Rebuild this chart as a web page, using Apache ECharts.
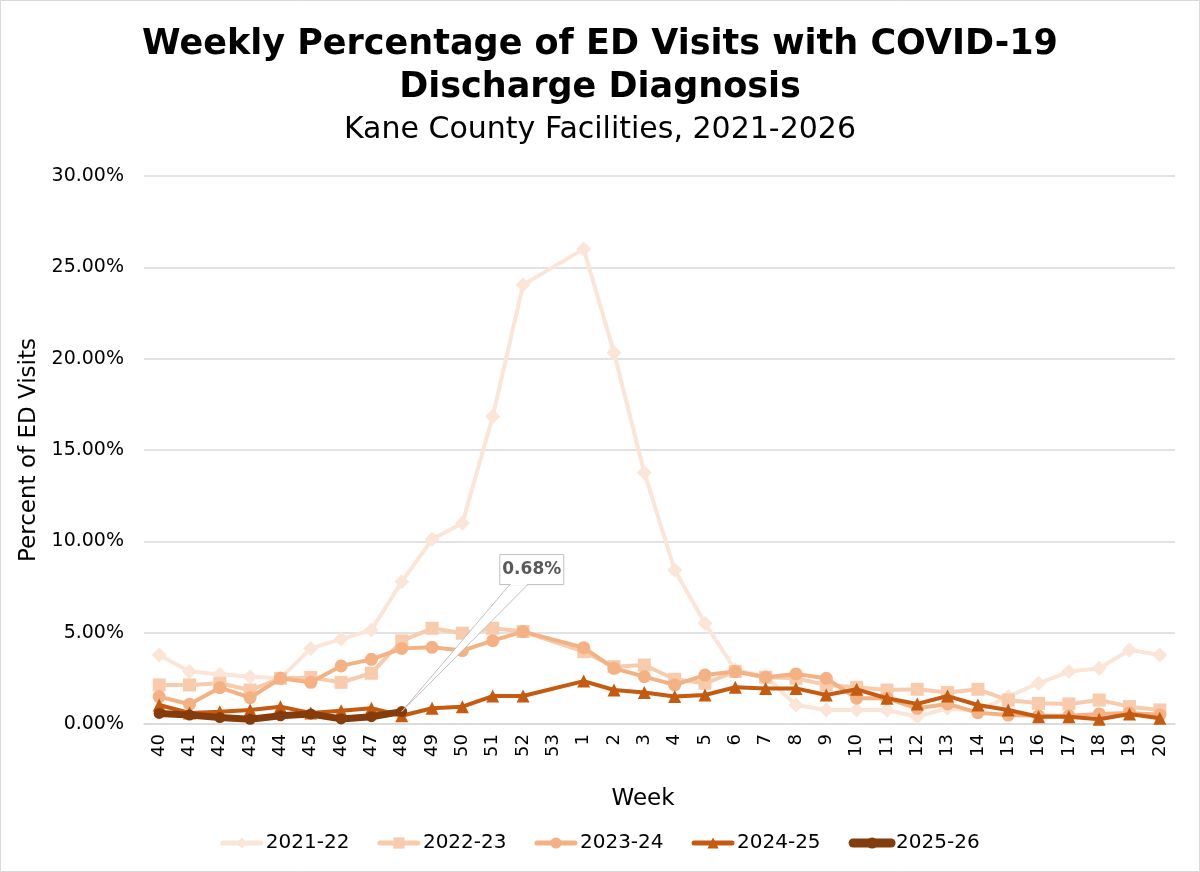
<!DOCTYPE html>
<html>
<head>
<meta charset="utf-8">
<title>Weekly Percentage of ED Visits with COVID-19</title>
<script src="https://cdn.jsdelivr.net/npm/echarts@6/dist/echarts.min.js"></script>
<style>
  html, body { margin: 0; padding: 0; background: #fff; }
  #chart { width: 1200px; height: 872px; }
</style>
</head>
<body>
<div id="chart"></div>
<script>
// week labels (season runs week 40 -> week 20)
var weeks = ['40','41','42','43','44','45','46','47','48','49','50','51','52','53',
  '1','2','3','4','5','6','7','8','9','10','11','12','13','14','15','16','17','18','19','20'];

// percent of ED visits (week 53 has no data)
var s2122 = [3.78, 2.87, 2.72, 2.59, 2.50, 4.14, 4.65, 5.15, 7.79, 10.11, 10.99, 16.83, 24.04, null,
  26.01, 20.33, 13.76, 8.43, 5.51, 2.96, 2.60, 1.04, 0.77, 0.77, 0.77, 0.40, 0.86, 0.70, 1.50, 2.23, 2.87, 3.05, 4.05, 3.78];
var s2223 = [2.14, 2.14, 2.23, 1.86, 2.50, 2.55, 2.28, 2.78, 4.55, 5.24, 4.97, 5.24, 5.06, null,
  3.96, 3.14, 3.23, 2.45, 2.23, 2.87, 2.56, 2.50, 2.14, 2.01, 1.86, 1.90, 1.72, 1.90, 1.31, 1.13, 1.10, 1.31, 0.95, 0.77];
var s2324 = [1.50, 1.08, 1.99, 1.44, 2.50, 2.28, 3.18, 3.54, 4.14, 4.20, 4.02, 4.56, 5.06, null,
  4.18, 3.05, 2.59, 2.14, 2.68, 2.87, 2.56, 2.74, 2.50, 1.41, 1.41, 0.86, 1.10, 0.62, 0.49, 0.45, 0.45, 0.55, 0.60, 0.50];
var s2425 = [1.04, 0.60, 0.67, 0.77, 0.95, 0.60, 0.73, 0.86, 0.45, 0.86, 0.95, 1.53, 1.53, null,
  2.35, 1.86, 1.72, 1.50, 1.59, 2.01, 1.95, 1.95, 1.59, 1.90, 1.41, 1.10, 1.53, 1.04, 0.77, 0.40, 0.40, 0.26, 0.55, 0.31];
var s2526 = [0.58, 0.49, 0.35, 0.26, 0.45, 0.55, 0.28, 0.40, 0.68];

var seasons = ['2021-22', '2022-23', '2023-24', '2024-25', '2025-26'];
var seasonData = [s2122, s2223, s2324, s2425, s2526];
var colors = ['#FBE5D6', '#F8CBAD', '#F4B183', '#C55A11', '#843C0C'];
var symbols = ['diamond', 'rect', 'circle', 'triangle', 'circle'];

var FONT = 'DejaVu Sans';

var chart = echarts.init(document.getElementById('chart'));

var series = seasons.map(function (name, i) {
  var last = i === seasons.length - 1;
  return {
    name: name,
    type: 'line',
    data: seasonData[i],
    connectNulls: true,
    symbol: symbols[i],
    symbolSize: last ? 11 : (symbols[i] === 'diamond' ? 15 : 13),
    showAllSymbol: true,
    lineStyle: { color: colors[i], width: last ? 7 : 4 },
    itemStyle: { color: colors[i] },
    z: 2 + i
  };
});

var legendItems = seasons.map(function (name, i) {
  var last = i === seasons.length - 1;
  return {
    name: name,
    itemStyle: { color: colors[i] },
    lineStyle: { color: colors[i], width: last ? 9 : 5, cap: 'round' }
  };
});

var option = {
  animation: false,
  textStyle: { fontFamily: FONT },
  title: {
    text: 'Weekly Percentage of ED Visits with COVID-19\nDischarge Diagnosis',
    subtext: 'Kane County Facilities, 2021-2026',
    left: 'center',
    top: 18,
    itemGap: 2,
    textStyle: { fontFamily: FONT, fontSize: 35, fontWeight: 'bold', color: '#000', lineHeight: 43 },
    subtextStyle: { fontFamily: FONT, fontSize: 30, color: '#000', lineHeight: 38 }
  },
  legend: {
    bottom: 14,
    left: 'center',
    itemWidth: 38,
    itemHeight: 14,
    itemGap: 28,
    textStyle: { fontFamily: FONT, fontSize: 20, color: '#000' },
    data: legendItems
  },
  grid: { left: 144, right: 25, top: 176, bottom: 148 },
  xAxis: {
    type: 'category',
    data: weeks,
    name: 'Week',
    nameLocation: 'middle',
    nameGap: 64,
    nameTextStyle: { fontFamily: FONT, fontSize: 23, color: '#000', padding: [0, 33, 0, 0] },
    axisLine: { lineStyle: { color: '#D9D9D9', width: 1.5 } },
    axisTick: { show: false },
    axisLabel: { interval: 0, rotate: 90, fontSize: 18, color: '#000', margin: 10 }
  },
  yAxis: {
    type: 'value',
    min: 0,
    max: 30,
    interval: 5,
    name: 'Percent of ED Visits',
    nameLocation: 'middle',
    nameGap: 100,
    nameTextStyle: { fontFamily: FONT, fontSize: 23, color: '#000' },
    axisLine: { show: false },
    axisTick: { show: false },
    axisLabel: {
      fontSize: 19, color: '#000', margin: 20,
      formatter: function (v) { return v.toFixed(2) + '%'; }
    },
    splitLine: { lineStyle: { color: '#D9D9D9', width: 1.5 } }
  },
  series: series
};

chart.setOption(option);

// callout for the latest week of the current season
function drawCallout() {
  var idx = s2526.length - 1;
  var pt = chart.convertToPixel({ seriesIndex: 4 }, [idx, s2526[idx]]);
  var bx = pt[0] + 98, by = pt[1] - 157;
  chart.setOption({
    graphic: [
      {
        type: 'rect',
        shape: { x: 0.5, y: 0.5, width: 1199, height: 871 },
        style: { fill: 'none', stroke: '#D9D9D9', lineWidth: 1 },
        silent: true
      },
      {
        type: 'polygon',
        z: 100,
        shape: { points: [[pt[0], pt[1]], [pt[0] + 108, pt[1] - 127], [pt[0] + 126, pt[1] - 127]] },
        style: { fill: '#fff', stroke: '#BFBFBF', lineWidth: 1 },
        silent: true
      },
      {
        type: 'rect',
        z: 101,
        shape: { x: bx, y: by, width: 64, height: 30 },
        style: { fill: '#fff', stroke: '#BFBFBF', lineWidth: 1 },
        silent: true
      },
      {
        type: 'rect',
        z: 102,
        shape: { x: pt[0] + 109, y: pt[1] - 128.5, width: 16, height: 2 },
        style: { fill: '#fff' },
        silent: true
      },
      {
        type: 'text',
        z: 103,
        style: {
          x: bx + 32, y: by + 15,
          text: (s2526[idx]).toFixed(2) + '%',
          align: 'center', verticalAlign: 'middle',
          font: 'bold 17px "DejaVu Sans"', fill: '#595959'
        },
        silent: true
      }
    ]
  });
}
drawCallout();
</script>
</body>
</html>
